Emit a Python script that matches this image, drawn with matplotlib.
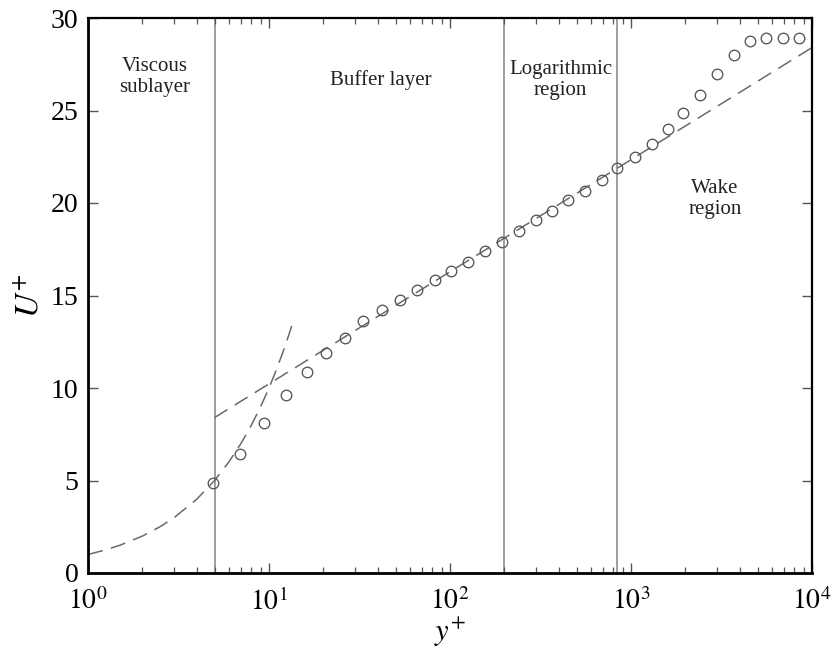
import matplotlib
matplotlib.use("Agg")
import matplotlib.pyplot as plt
from matplotlib.ticker import LogLocator, NullFormatter, FixedLocator

plt.rcParams['font.family'] = ['Liberation Serif', 'DejaVu Serif']
plt.rcParams['mathtext.fontset'] = 'stix'

# measured data (y+, U+)
y_plus = [4.92, 6.92, 9.38, 12.4, 16.2, 20.6, 26.2, 33.2, 42, 53, 66, 82.6, 101, 125,
          156, 193, 240, 297, 365, 451, 557, 689, 841, 1052, 1300, 1608, 1945, 2407,
          2973, 3705, 4540, 5570, 6890, 8480]
u_plus = [4.88, 6.43, 8.12, 9.6, 10.88, 11.89, 12.7, 13.62, 14.2, 14.76, 15.3, 15.84,
          16.34, 16.83, 17.4, 17.9, 18.49, 19.08, 19.58, 20.15, 20.66, 21.24, 21.87,
          22.47, 23.19, 24.0, 24.85, 25.84, 26.95, 28.0, 28.77, 28.94, 28.94, 28.9]

# viscous sublayer law U+ = y+
visc_y = [1.0, 1.25, 1.5, 2.0, 2.5, 3.0, 4.0, 5.0, 6.0, 7.0, 8.0, 9.0, 10.0, 11.0, 12.0, 13.0, 13.6]
visc_u = [1.0, 1.25, 1.5, 2.0, 2.5, 3.0, 4.0, 5.0, 6.0, 7.0, 8.0, 9.0, 10.0, 11.0, 12.0, 13.0, 13.6]

# log law line endpoints
log_y = [5.0, 10000.0]
log_u = [8.4, 28.4]

# region boundaries
bounds = [5, 200, 840]

labels = ["Viscous\nsublayer", "Buffer layer", "Logarithmic\nregion", "Wake\nregion"]
label_x = [2.34, 41.6, 409, 2911]
label_y = [26.8, 26.65, 26.65, 20.2]

fig = plt.figure(figsize=(8.35, 6.52), dpi=100)
ax = fig.add_axes([88/835, 79/652, (812-88)/835, (573-18)/652])

for b in bounds:
    ax.axvline(b, color='#8c8c8c', lw=1.2, zorder=1)

ax.plot(visc_y, visc_u, color='#6a6a6a', lw=1.1, dashes=(10, 5.5), zorder=2)
ax.plot(log_y, log_u, color='#6a6a6a', lw=1.1, dashes=(10, 5.5), zorder=2)
ax.plot(y_plus, u_plus, linestyle='none', marker='o', markersize=7.6,
        markerfacecolor='none', markeredgecolor='#555555', markeredgewidth=0.95, zorder=3)

for t, x, y in zip(labels, label_x, label_y):
    ax.text(x, y, t, ha='center', va='center', fontsize=15, color='#222222',
            linespacing=1.15)

ax.set_xscale('log')
ax.set_xlim(1, 1e4)
ax.set_ylim(0, 30)
ax.set_yticks([0, 5, 10, 15, 20, 25, 30])
ax.xaxis.set_major_locator(FixedLocator([1, 10, 100, 1000, 10000]))
ax.set_xticklabels([r'$10^{0}$', r'$10^{1}$', r'$10^{2}$', r'$10^{3}$', r'$10^{4}$'])
ax.xaxis.set_minor_locator(LogLocator(base=10, subs=range(2, 10), numticks=20))
ax.xaxis.set_minor_formatter(NullFormatter())

ax.tick_params(axis='both', which='major', direction='in', length=7, width=1.0,
               color='#555555', labelsize=20, top=True, right=True, pad=7)
ax.tick_params(axis='both', which='minor', direction='in', length=4, width=0.9,
               color='#555555', top=True, right=True)
ax.tick_params(axis='x', which='major', pad=11)

for s in ax.spines.values():
    s.set_linewidth(1.6)
    s.set_color('black')
ax.spines['left'].set_linewidth(2.0)
ax.spines['bottom'].set_linewidth(2.0)

ax.set_xlabel(r'$y^{+}$', fontsize=22, labelpad=0)
ax.set_ylabel(r'$U^{+}$', fontsize=24, labelpad=4)

fig.savefig('out.png', dpi=100, facecolor='white')
